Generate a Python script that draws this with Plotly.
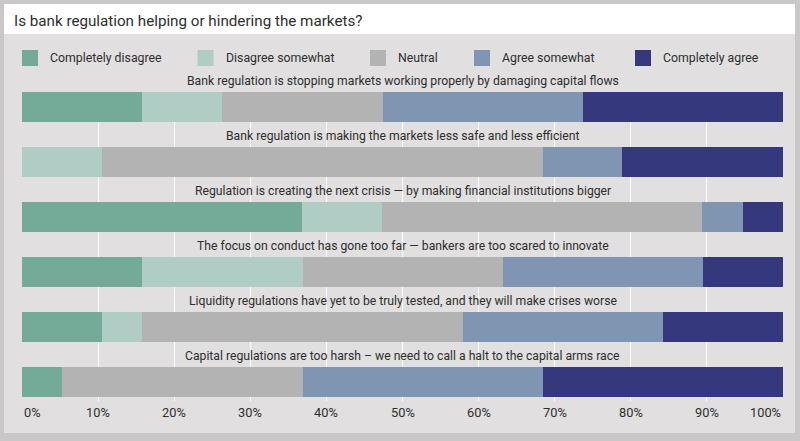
import plotly.graph_objects as go

W, H = 800, 441
ML, MR, MT, MB = 22, 17, 92, 40
PW, PH = W - ML - MR, H - MT - MB

questions = [
    "Bank regulation is stopping markets working properly by damaging capital flows",
    "Bank regulation is making the markets less safe and less efficient",
    "Regulation is creating the next crisis \u2014 by making financial institutions bigger",
    "The focus on conduct has gone too far \u2014 bankers are too scared to innovate",
    "Liquidity regulations have yet to be truly tested, and they will make crises worse",
    "Capital regulations are too harsh \u2013 we need to call a halt to the capital arms race",
]
series_names = ["Completely disagree", "Disagree somewhat", "Neutral", "Agree somewhat", "Completely agree"]
completely_disagree = [15.8, 0.0, 36.8, 15.8, 10.5, 5.3]
disagree_somewhat = [10.5, 10.5, 10.5, 21.1, 5.3, 0.0]
neutral = [21.1, 57.9, 42.1, 26.3, 42.1, 31.6]
agree_somewhat = [26.3, 10.5, 5.3, 26.3, 26.3, 31.6]
completely_agree = [26.3, 21.1, 5.3, 10.5, 15.8, 31.5]
tick_vals = [0, 10, 20, 30, 40, 50, 60, 70, 80, 90, 100]
tick_text = ["0%", "10%", "20%", "30%", "40%", "50%", "60%", "70%", "80%", "90%", "100%"]
title_text = "Is bank regulation helping or hindering the markets?"

colors = ["#73aa98", "#afcdc5", "#b3b3b3", "#7f95b2", "#36387e"]
FONT = "Roboto, sans-serif"
TXT = "#2e2e2e"

fig = go.Figure()
for name, vals, col in zip(series_names,
                           [completely_disagree, disagree_somewhat, neutral, agree_somewhat, completely_agree],
                           colors):
    fig.add_trace(go.Bar(
        y=questions, x=vals, name=name, orientation="h",
        marker=dict(color=col, line=dict(width=0)),
        width=0.546, showlegend=False, hoverinfo="x+name",
    ))

def px_x(x):
    return (x - ML) / PW

def px_y(y):
    return (MT + PH - y) / PH

shapes = [
    # grey panel
    dict(type="rect", xref="paper", yref="paper", x0=px_x(4), x1=px_x(795), y0=px_y(433), y1=px_y(4),
         fillcolor="#e1dfe0", line=dict(width=0), layer="below"),
    # white title bar
    dict(type="rect", xref="paper", yref="paper", x0=px_x(4), x1=px_x(795), y0=px_y(34), y1=px_y(4),
         fillcolor="#ffffff", line=dict(width=0), layer="below"),
]
annotations = [
    dict(text=title_text, xref="paper", yref="paper", x=px_x(12), y=px_y(20.5), xanchor="left",
         yanchor="middle", showarrow=False, font=dict(family=FONT, size=15.2, color=TXT)),
]

# custom legend
leg_sq_x = [22, 197.5, 370, 474, 635]
for i, (name, col) in enumerate(zip(series_names, colors)):
    x0 = leg_sq_x[i]
    shapes.append(dict(type="rect", xref="paper", yref="paper", x0=px_x(x0), x1=px_x(x0 + 16),
                       y0=px_y(66), y1=px_y(50), fillcolor=col, line=dict(width=0), layer="above"))
    annotations.append(dict(text=name, xref="paper", yref="paper", x=px_x(x0 + 26), y=px_y(58),
                            xanchor="left", yanchor="middle", showarrow=False,
                            font=dict(family=FONT, size=12.3, color=TXT)))

# question labels above each bar
for q in questions:
    annotations.append(dict(text=q, xref="x", yref="y", x=50, y=q, yshift=26, xanchor="center",
                            yanchor="middle", showarrow=False,
                            font=dict(family=FONT, size=12.2, color=TXT)))

# tick labels
for v, t in zip(tick_vals, tick_text):
    anchor = "left" if v == tick_vals[0] else ("right" if v == tick_vals[-1] else "center")
    annotations.append(dict(text=t, xref="x", yref="paper", x=v, y=0, yshift=-11, xanchor=anchor,
                            yanchor="middle", showarrow=False,
                            font=dict(family=FONT, size=12.8, color=TXT)))

fig.update_layout(
    width=W, height=H, barmode="stack",
    margin=dict(l=ML, r=MR, t=MT, b=MB),
    paper_bgcolor="#cac7c8", plot_bgcolor="rgba(0,0,0,0)",
    shapes=shapes, annotations=annotations,
    xaxis=dict(range=[0, 100], tickvals=tick_vals, showticklabels=False, showgrid=True,
               gridcolor="#ffffff", gridwidth=1, zeroline=False, showline=False, fixedrange=True),
    yaxis=dict(type="category", range=[5.35, -0.27], showticklabels=False, showgrid=False,
               zeroline=False, showline=False, fixedrange=True),
    font=dict(family=FONT, color=TXT),
)

fig.write_html("out.html")
